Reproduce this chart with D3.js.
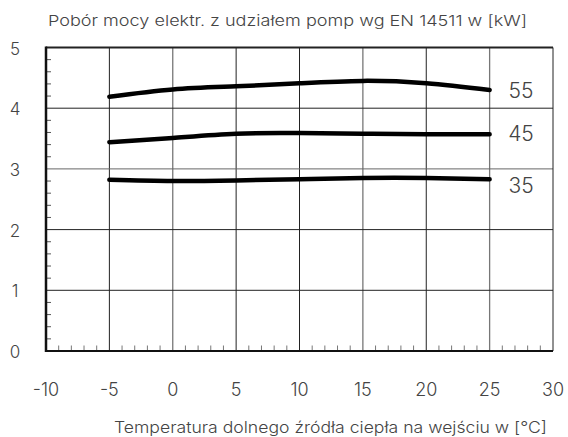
<!DOCTYPE html>
<html>
<head>
<meta charset="utf-8">
<script src="https://cdn.jsdelivr.net/npm/d3@7"></script>
<style>
  body { margin: 0; background: #fff; }
  text { font-family: Inter, "DejaVu Sans", sans-serif; font-weight: 300; }
</style>
</head>
<body>
<div id="chart"></div>
<script>
// dane
var temps = [-5, 0, 5, 10, 15, 20, 25];
var series55 = [4.19, 4.31, 4.36, 4.41, 4.45, 4.41, 4.30];
var series45 = [3.44, 3.51, 3.58, 3.59, 3.58, 3.57, 3.57];
var series35 = [2.82, 2.80, 2.81, 2.83, 2.85, 2.85, 2.83];
var seriesNames = ['55', '45', '35'];
var xTicks = [-10, -5, 0, 5, 10, 15, 20, 25, 30];
var yTicks = [0, 1, 2, 3, 4, 5];

var width = 568, height = 437;
var svg = d3.select('#chart').append('svg')
    .attr('width', width)
    .attr('height', height);

var x = d3.scaleLinear().domain([-10, 30]).range([46, 553]);
var y = d3.scaleLinear().domain([0, 5]).range([351, 47.5]);

// siatka pionowa
var grayLines = [0, 15, 25];
svg.append('g').selectAll('line')
    .data([-5, 0, 5, 10, 15, 20, 25])
    .enter().append('line')
    .attr('x1', d => x(d)).attr('x2', d => x(d))
    .attr('y1', y(0)).attr('y2', y(5))
    .attr('stroke', d => grayLines.includes(d) ? '#777' : '#222')
    .attr('stroke-width', d => grayLines.includes(d) ? 1.3 : 1);

// siatka pozioma
svg.append('g').selectAll('line')
    .data([1, 2, 3, 4])
    .enter().append('line')
    .attr('x1', x(-10)).attr('x2', x(30))
    .attr('y1', d => y(d)).attr('y2', d => y(d))
    .attr('stroke', d => d == 3 ? '#666' : '#222')
    .attr('stroke-width', 1);

// drobne kreski osi
svg.append('g').selectAll('line')
    .data(d3.range(0, 5.01, 0.2).filter(d => Math.abs(d - Math.round(d)) > 0.01))
    .enter().append('line')
    .attr('x1', x(-10)).attr('x2', x(-10) + 5)
    .attr('y1', d => y(d)).attr('y2', d => y(d))
    .attr('stroke', '#555');

svg.append('g').selectAll('line')
    .data(d3.range(-9, 30).filter(d => d % 5 != 0))
    .enter().append('line')
    .attr('x1', d => x(d)).attr('x2', d => x(d))
    .attr('y1', y(0)).attr('y2', y(0) - 5.5)
    .attr('stroke', '#777');

// ramka
svg.append('line').attr('x1', x(30)).attr('x2', x(30)).attr('y1', y(0)).attr('y2', y(5))
    .attr('stroke', '#222').attr('stroke-width', 1);
svg.append('line').attr('x1', x(-10)).attr('x2', x(30)).attr('y1', y(5)).attr('y2', y(5))
    .attr('stroke', '#222').attr('stroke-width', 2);
svg.append('line').attr('x1', x(-10)).attr('x2', x(30)).attr('y1', y(0)).attr('y2', y(0))
    .attr('stroke', '#111').attr('stroke-width', 2);
svg.append('line').attr('x1', x(-10)).attr('x2', x(-10)).attr('y1', y(0) + 1).attr('y2', y(5) - 1)
    .attr('stroke', '#111').attr('stroke-width', 2.5);

// krzywe
var allSeries = [series55, series45, series35];
var line = d3.line()
    .x((d, i) => x(temps[i]))
    .y(d => y(d))
    .curve(d3.curveNatural);

svg.append('g').selectAll('path')
    .data(allSeries)
    .enter().append('path')
    .attr('d', d => line(d))
    .attr('fill', 'none')
    .attr('stroke', '#000')
    .attr('stroke-width', 4.5)
    .attr('stroke-linecap', 'round');

// etykiety serii
svg.append('g').selectAll('text')
    .data(allSeries)
    .enter().append('text')
    .attr('x', 521)
    .attr('y', (d, i) => [98, 140.5, 192.5][i])
    .attr('text-anchor', 'middle')
    .attr('font-size', 21)
    .attr('fill', '#444')
    .text((d, i) => seriesNames[i]);

// opisy osi
svg.append('g').selectAll('text')
    .data(yTicks)
    .enter().append('text')
    .attr('x', 15)
    .attr('y', d => y(d) + 7)
    .attr('text-anchor', 'middle')
    .attr('font-size', 17)
    .attr('fill', '#444')
    .text(d => d);

svg.append('g').selectAll('text')
    .data(xTicks)
    .enter().append('text')
    .attr('x', d => x(d))
    .attr('y', 396)
    .attr('text-anchor', 'middle')
    .attr('font-size', 18)
    .attr('fill', '#444')
    .text(d => d);

svg.append('text')
    .attr('x', 48)
    .attr('y', 26)
    .attr('font-size', 15)
    .attr('fill', '#444')
    .attr('textLength', 479)
    .attr('lengthAdjust', 'spacingAndGlyphs')
    .text('Pobór mocy elektr. z udziałem pomp wg EN 14511 w [kW]');

svg.append('text')
    .attr('x', 114)
    .attr('y', 433)
    .attr('font-size', 16)
    .attr('fill', '#444')
    .attr('textLength', 433)
    .attr('lengthAdjust', 'spacingAndGlyphs')
    .text('Temperatura dolnego źródła ciepła na wejściu w [°C]');
</script>
</body>
</html>
